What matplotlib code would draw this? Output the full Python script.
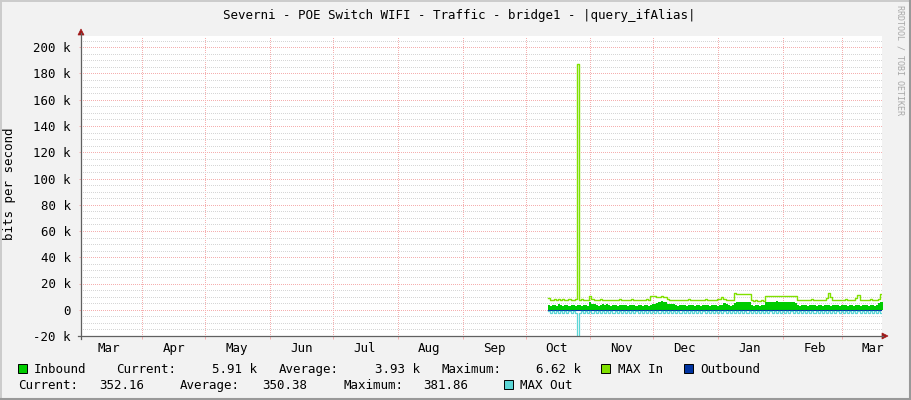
import numpy as np
import matplotlib
matplotlib.use("Agg")
import matplotlib.pyplot as plt
import matplotlib.dates as mdates
import matplotlib.ticker as mticker
from matplotlib.lines import Line2D
from matplotlib.patches import Polygon, Rectangle
import pandas as pd

W, H = 911, 400

# ---------------- texts ----------------
TITLE = "Severni - POE Switch WIFI - Traffic - bridge1 - |query_ifAlias|"
Y_LABEL = "bits per second"
WATERMARK = "RRDTOOL / TOBI OETIKER"

# ---------------- axes ranges ----------------
X_START = "2024-03-02 17:00"
X_END = "2025-03-20 00:00"
Y_MIN, Y_MAX = -20000, 208800
Y_TICKS = list(range(-20000, 200001, 20000))

# ---------------- data (daily samples, k = 1000 bits/s) ----------------
DATA_START = "2024-10-11 12:00"

inbound_k = [
    3.3, 3.2, 3.3, 3.3, 3.2, 4.0, 3.3, 3.2, 3.3, 3.3, 3.2, 3.3, 3.3, 3.2, 3.3, 3.3, 3.2, 3.3, 3.3, 3.2,
    5.6, 4.5, 4.0, 3.3, 3.2, 3.3, 4.0, 3.3, 4.0, 3.3, 3.2, 3.3, 3.3, 3.2, 3.3, 3.3, 3.7, 3.3, 3.2, 3.3,
    3.7, 3.3, 3.2, 3.7, 3.3, 3.2, 3.3, 3.3, 3.2, 3.3, 4.0, 4.0, 5.0, 6.1, 6.3, 6.1, 5.8, 4.5, 4.0, 4.3,
    4.0, 3.3, 3.2, 3.3, 3.7, 3.3, 3.2, 3.3, 3.3, 3.7, 3.2, 3.3, 3.3, 3.2, 3.7, 3.3, 3.3, 3.2, 3.3, 3.7,
    3.3, 3.2, 3.3, 3.3, 5.0, 4.2, 3.3, 3.2, 3.3, 5.2, 6.1, 6.2, 6.1, 6.2, 6.1, 6.2, 6.0, 3.3, 3.2, 3.3,
    3.3, 3.2, 3.3, 3.3, 5.8, 6.1, 6.2, 6.1, 6.2, 6.6, 6.1, 6.2, 6.1, 6.2, 6.1, 6.2, 6.1, 6.0, 5.5, 3.3,
    3.2, 3.3, 3.7, 3.3, 3.2, 3.3, 3.3, 3.7, 3.2, 3.3, 3.3, 3.2, 3.7, 3.3, 3.3, 3.2, 3.3, 3.7, 3.3, 3.2,
    3.3, 3.3, 3.7, 3.2, 3.3, 3.3, 3.2, 3.7, 3.3, 3.2, 3.3, 3.3, 3.7, 3.2, 3.3, 3.3, 3.2, 3.3, 4.8, 5.9,
]

max_in_k = [
    8.9, 7.8, 7.4, 7.9, 7.5, 8.3, 7.6, 7.9, 7.3, 7.8, 8.0, 7.5, 7.7, 8.4, 187.0, 7.6, 7.9, 7.5, 7.7, 7.4,
    10.7, 8.2, 7.8, 7.5, 7.7, 7.9, 7.4, 7.8, 7.6, 7.5, 7.8, 7.6, 7.4, 7.7, 7.9, 7.5, 7.8, 7.6, 7.5, 7.7,
    7.9, 7.6, 7.4, 7.8, 7.5, 7.7, 7.6, 7.9, 7.4, 10.7, 10.7, 10.1, 10.0, 10.0, 10.1, 10.0, 10.0, 8.0, 7.6, 7.8,
    7.5, 7.7, 7.6, 7.4, 7.8, 7.6, 7.5, 7.9, 7.7, 7.4, 7.6, 7.8, 7.5, 7.7, 7.6, 7.9, 7.4, 7.8, 7.5, 7.7,
    7.6, 7.9, 8.5, 9.5, 8.0, 7.6, 7.4, 7.8, 7.6, 12.7, 11.7, 11.7, 11.8, 11.7, 11.7, 11.8, 11.7, 7.2, 6.9, 7.1,
    6.8, 7.0, 7.1, 6.9, 10.7, 10.7, 10.6, 10.7, 10.7, 10.8, 10.7, 10.6, 10.7, 10.7, 10.8, 10.7, 10.6, 10.7, 10.5, 7.8,
    7.6, 7.5, 7.8, 7.4, 7.7, 7.6, 7.9, 7.5, 7.7, 7.4, 7.6, 7.8, 7.5, 8.8, 12.7, 9.8, 7.6, 7.8, 7.5, 7.7,
    7.4, 7.6, 7.9, 7.5, 7.7, 7.6, 7.4, 9.0, 11.0, 7.8, 7.5, 7.7, 7.6, 7.4, 7.9, 7.6, 7.5, 7.8, 8.5, 12.0,
]

outbound_bits = [
    351, 349, 353, 350, 348, 352, 350, 351, 349, 352, 350, 348, 353, 351, 381, 350, 352, 349, 351, 350,
    352, 349, 350, 351, 348, 352, 350, 353, 349, 351, 350, 352, 348, 351, 350, 349, 352, 351, 350, 348,
    351, 350, 352, 349, 351, 350, 348, 352, 351, 349, 350, 353, 351, 350, 349, 352, 350, 351, 348, 350,
    352, 349, 351, 350, 348, 352, 350, 351, 349, 352, 350, 348, 351, 350, 352, 349, 351, 350, 348, 352,
    350, 351, 349, 352, 350, 348, 351, 350, 352, 349, 351, 350, 348, 352, 350, 351, 349, 352, 350, 348,
    351, 350, 352, 349, 351, 350, 348, 352, 350, 351, 349, 352, 350, 348, 351, 350, 352, 349, 351, 350,
    348, 352, 350, 351, 349, 352, 350, 348, 351, 350, 352, 349, 351, 350, 348, 352, 350, 351, 349, 352,
    350, 348, 351, 350, 352, 349, 351, 350, 348, 352, 350, 351, 349, 352, 350, 348, 351, 350, 353, 352,
]

max_out_k = [
    1.2, 2.3, 1.0, 2.4, 1.3, 2.2, 1.1, 2.4, 1.2, 2.3, 1.0, 2.2, 1.3, 2.4, 30.0, 2.3, 1.1, 2.4, 1.2, 2.2,
    1.0, 2.3, 1.2, 2.4, 1.1, 2.2, 1.3, 2.3, 1.0, 2.4, 1.2, 2.2, 1.1, 2.3, 1.3, 2.4, 1.0, 2.2, 1.2, 2.3,
    1.1, 2.4, 1.3, 2.2, 1.0, 2.3, 1.2, 2.4, 1.1, 2.2, 1.3, 2.3, 1.0, 2.4, 1.2, 2.2, 1.1, 2.3, 1.3, 2.4,
    1.0, 2.2, 1.2, 2.3, 1.1, 2.4, 1.3, 2.2, 1.0, 2.3, 1.2, 2.4, 1.1, 2.2, 1.3, 2.3, 1.0, 2.4, 1.2, 2.2,
    1.1, 2.3, 1.3, 2.4, 1.0, 2.2, 1.2, 2.3, 1.1, 2.4, 1.3, 2.2, 1.0, 2.3, 1.2, 2.4, 1.1, 2.2, 1.3, 2.3,
    1.0, 2.4, 1.2, 2.2, 1.1, 2.3, 1.3, 2.4, 1.0, 2.2, 1.2, 2.3, 1.1, 2.4, 1.3, 2.2, 1.0, 2.3, 1.2, 2.4,
    1.1, 2.2, 1.3, 2.3, 1.0, 2.4, 1.2, 2.2, 1.1, 2.3, 1.3, 2.4, 1.0, 2.2, 1.2, 2.3, 1.1, 2.4, 1.3, 2.2,
    1.0, 2.3, 1.2, 2.4, 1.1, 2.2, 1.3, 2.3, 1.0, 2.4, 1.2, 2.2, 1.1, 2.3, 1.3, 2.4, 1.0, 2.2, 1.2, 2.3,
]

# ---------------- legend ----------------
LEG_ROW1 = [("Inbound", 33.7), ("Current:", 116), ("5.91 k", 212), ("Average:", 279),
            ("3.93 k", 375), ("Maximum:", 441), ("6.62 k", 536), ("MAX In", 618), ("Outbound", 700.6)]
LEG_ROW2 = [("Current:", 18.6), ("352.16", 99), ("Average:", 180), ("350.38", 262),
            ("Maximum:", 343), ("381.86", 423), ("MAX Out", 520)]

# ---------------- style ----------------
BG = "#F2F2F2"
C_IN = "#00CC00"
C_MAXIN = "#80E000"
C_OUT = "#0033A0"
C_MAXOUT = "#5CD6D6"
C_GRID_MAJ = "#F5AFAF"
C_GRID_MIN = "#D6D6D6"
C_AXIS = "#606060"
C_ARROW = "#A01818"
FONT = "DejaVu Sans Mono"
FS = 9.0

plt.rcParams["font.family"] = [FONT, "DejaVu Sans"]


def fx(x):
    return x / W


def fy(y):
    return 1 - y / H


fig = plt.figure(figsize=(W / 100, H / 100), dpi=100, facecolor=BG)

L, R, T, B = 81, 881.5, 35.7, 336.0
ax = fig.add_axes([fx(L), fy(B), (R - L) / W, (B - T) / H])
ax.set_facecolor("white")
for s in ax.spines.values():
    s.set_visible(False)

# data series
n = len(inbound_k)
t = pd.date_range(DATA_START, periods=n + 1, freq="1D")
inb = np.array(inbound_k + [inbound_k[-1]]) * 1000
mxi = np.array(max_in_k + [max_in_k[-1]]) * 1000
outb = -np.array(outbound_bits + [outbound_bits[-1]], dtype=float)
mxo = -np.array(max_out_k + [max_out_k[-1]]) * 1000

ax.fill_between(t, 0, inb, step="post", color=C_IN, lw=0, zorder=3)
ax.plot(t, mxi, drawstyle="steps-post", color=C_MAXIN, lw=1.0, zorder=4)
ax.fill_between(t, 0, outb, step="post", color=C_OUT, lw=0, zorder=3)
ax.plot(t, outb, drawstyle="steps-post", color=C_OUT, lw=0.8, zorder=3)
ax.plot(t, mxo, drawstyle="steps-post", color=C_MAXOUT, lw=0.9, zorder=4)

ax.set_xlim(pd.Timestamp(X_START), pd.Timestamp(X_END))
ax.set_ylim(Y_MIN, Y_MAX)

# x axis: month starts = grid, mid-month = labels
ax.xaxis.set_major_locator(mdates.MonthLocator(bymonthday=1))
ax.xaxis.set_major_formatter(mticker.NullFormatter())
ax.xaxis.set_minor_locator(mdates.MonthLocator(bymonthday=16))
ax.xaxis.set_minor_formatter(mdates.DateFormatter("%b"))
ax.tick_params(axis="x", which="major", length=2.2, width=0.72, color=C_GRID_MAJ, direction="out")
ax.tick_params(axis="x", which="minor", length=0, labelsize=FS, pad=4.0, labelcolor="black")

# y axis
ax.yaxis.set_major_locator(mticker.FixedLocator(Y_TICKS))
ax.yaxis.set_minor_locator(mticker.MultipleLocator(5000))


def yfmt(v, pos):
    if abs(v) < 1e-9:
        return "0"
    return f"{v / 1000:.0f} k"


ax.yaxis.set_major_formatter(mticker.FuncFormatter(yfmt))
ax.tick_params(axis="y", which="major", length=1.5, width=0.72, color=C_GRID_MAJ,
               labelsize=FS, pad=6.0, labelcolor="black")
ax.tick_params(axis="y", which="minor", length=0)

ax.grid(which="major", axis="both", color=C_GRID_MAJ, linestyle=(0, (1, 2)), lw=0.72,
        zorder=1, antialiased=False)
ax.grid(which="minor", axis="y", color=C_GRID_MIN, linestyle=(0, (1, 2)), lw=0.72,
        zorder=1, antialiased=False)
ax.set_axisbelow(True)

# axis lines with arrows (figure pixel coords)
fig.add_artist(Line2D([fx(L), fx(L)], [fy(339), fy(33)], color=C_AXIS, lw=0.9))
fig.add_artist(Line2D([fx(78), fx(883)], [fy(B), fy(B)], color=C_AXIS, lw=0.9))
fig.add_artist(Polygon([[fx(L - 3), fy(35)], [fx(L + 3), fy(35)], [fx(L), fy(29)]],
                       closed=True, facecolor=C_ARROW, edgecolor=C_ARROW, lw=0.5))
fig.add_artist(Polygon([[fx(882), fy(B - 3)], [fx(882), fy(B + 3)], [fx(888), fy(B)]],
                       closed=True, facecolor=C_ARROW, edgecolor=C_ARROW, lw=0.5))

# frame shading
fig.add_artist(Line2D([0, 1], [fy(0.5), fy(0.5)], color="#CBCBCB", lw=1.4))
fig.add_artist(Line2D([fx(0.5), fx(0.5)], [0, 1], color="#CBCBCB", lw=1.4))
fig.add_artist(Line2D([0, 1], [fy(399), fy(399)], color="#999999", lw=1.5))
fig.add_artist(Line2D([fx(910), fx(910)], [0, 1], color="#999999", lw=1.5))

# title, y label, watermark
fig.text(fx(459.5), fy(18.5), TITLE, ha="center", va="baseline", fontsize=FS, color="black")
fig.text(fx(10), fy(184), Y_LABEL, ha="center", va="center", rotation=90, fontsize=FS, color="black")
fig.text(fx(900), fy(5), WATERMARK, ha="center", va="top", rotation=270, fontsize=6.0, color="#A8A8A8")

# legend
def swatch(x, y, color):
    fig.add_artist(Rectangle((fx(x), fy(y + 9)), 9 / W, 9 / H, facecolor=color,
                             edgecolor="black", lw=0.7, transform=fig.transFigure))


swatch(18, 364, C_IN)
swatch(601, 364, C_MAXIN)
swatch(684, 364, C_OUT)
swatch(504, 380, C_MAXOUT)
for txt, x in LEG_ROW1:
    fig.text(fx(x), fy(373.3), txt, ha="left", va="baseline", fontsize=FS, color="black")
for txt, x in LEG_ROW2:
    fig.text(fx(x), fy(389.3), txt, ha="left", va="baseline", fontsize=FS, color="black")

fig.savefig("out.png", dpi=100, facecolor=BG)
